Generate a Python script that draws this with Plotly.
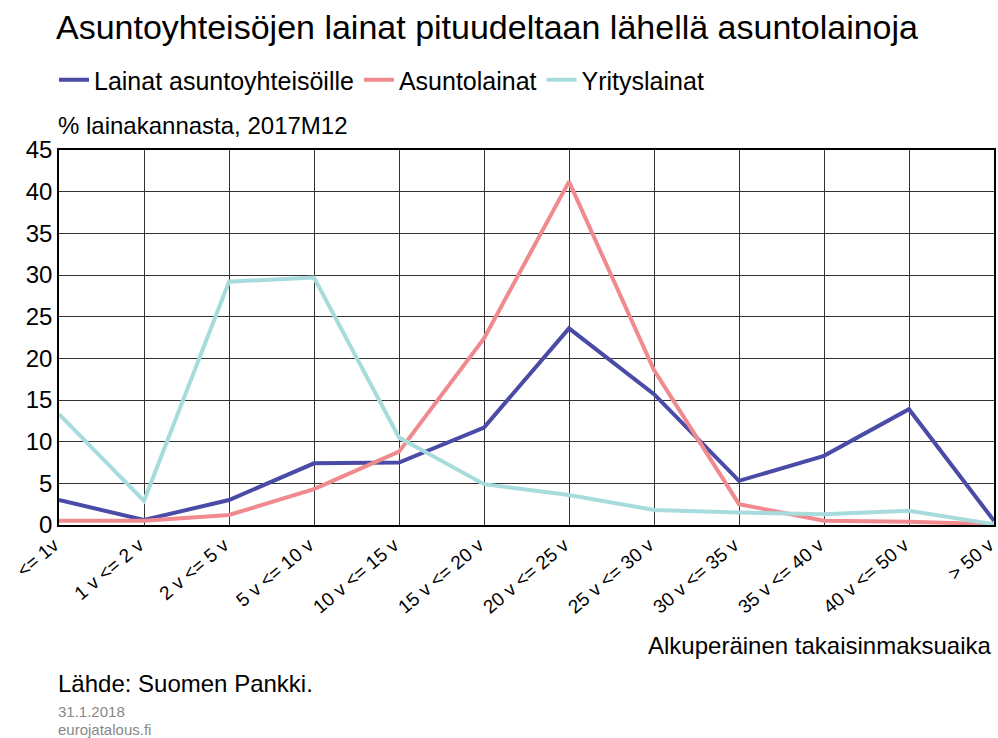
import plotly.graph_objects as go

categories = ["<= 1v", "1 v <= 2 v", "2 v <= 5 v", "5 v <= 10 v", "10 v <= 15 v",
              "15 v <= 20 v", "20 v <= 25 v", "25 v <= 30 v", "30 v <= 35 v",
              "35 v <= 40 v", "40 v <= 50 v", "> 50 v"]
asuntoyhteisot = [3.0, 0.6, 3.0, 7.4, 7.5, 11.7, 23.6, 15.7, 5.3, 8.3, 13.9, 0.5]
asuntolainat = [0.5, 0.5, 1.2, 4.3, 8.8, 22.4, 41.2, 18.6, 2.5, 0.5, 0.4, 0.1]
yrityslainat = [13.3, 2.9, 29.2, 29.7, 10.5, 4.9, 3.6, 1.8, 1.5, 1.3, 1.7, 0.1]
series_names = ["Lainat asuntoyhteisöille", "Asuntolainat", "Yrityslainat"]
colors = ["#4a4ba6", "#f08a8e", "#a8dcdc"]

FONT = "Liberation Sans, Arial, sans-serif"
fig = go.Figure()
for name, vals, c in zip(series_names, [asuntoyhteisot, asuntolainat, yrityslainat], colors):
    fig.add_trace(go.Scatter(x=list(range(len(categories))), y=vals, name=name, mode="lines",
                             line=dict(color=c, width=4)))

fig.update_layout(
    width=998, height=738,
    margin=dict(l=59, r=4, t=150, b=213),
    paper_bgcolor="white", plot_bgcolor="white",
    font=dict(family=FONT, color="black"),
    title=dict(text="Asuntoyhteisöjen lainat pituudeltaan lähellä asuntolainoja",
               x=56/998, xanchor="left", y=1 - 27/738, yanchor="middle",
               font=dict(size=34, family=FONT, color="black")),
    legend=dict(orientation="h", xref="container", x=54/998, xanchor="left",
                yref="container", y=1 - 80/738, yanchor="middle",
                font=dict(size=25, family=FONT), itemwidth=30,
                tracegroupgap=0, bgcolor="rgba(0,0,0,0)"),
    showlegend=True,
)

fig.update_xaxes(range=[0, len(categories) - 1], tickmode="array",
                 tickvals=list(range(len(categories))), ticktext=categories,
                 tickangle=-40, tickfont=dict(size=19, family=FONT),
                 ticklabeloverflow="allow", ticklabelshift=-5, automargin=False,
                 showgrid=True, gridcolor="#333333", gridwidth=1,
                 showline=True, linecolor="black", linewidth=1.5, mirror=True,
                 ticks="", zeroline=False)
fig.update_yaxes(range=[0, 45], tickmode="array", tickvals=list(range(0, 50, 5)),
                 tickfont=dict(size=24, family=FONT), automargin=False,
                 showgrid=True, gridcolor="#333333", gridwidth=1,
                 showline=True, linecolor="black", linewidth=1.5, mirror=True,
                 ticks="", zeroline=False)

fig.add_annotation(text="% lainakannasta, 2017M12", xref="paper", yref="paper",
                   x=-3/935, y=1 + 25/375, xanchor="left", yanchor="middle",
                   showarrow=False, font=dict(size=24, family=FONT))
fig.add_annotation(text="Alkuperäinen takaisinmaksuaika", xref="paper", yref="paper",
                   x=1, y=-(645 - 525)/375, xanchor="right", yanchor="middle",
                   showarrow=False, font=dict(size=24, family=FONT))
fig.add_annotation(text="Lähde: Suomen Pankki.", xref="paper", yref="paper",
                   x=-3/935, y=-(683 - 525)/375, xanchor="left", yanchor="middle",
                   showarrow=False, font=dict(size=24, family=FONT))
fig.add_annotation(text="31.1.2018", xref="paper", yref="paper",
                   x=-3/935, y=-(711 - 525)/375, xanchor="left", yanchor="middle",
                   showarrow=False, font=dict(size=15, family=FONT, color="#888888"))
fig.add_annotation(text="eurojatalous.fi", xref="paper", yref="paper",
                   x=-3/935, y=-(729 - 525)/375, xanchor="left", yanchor="middle",
                   showarrow=False, font=dict(size=15, family=FONT, color="#888888"))

fig.write_html("out.html")
